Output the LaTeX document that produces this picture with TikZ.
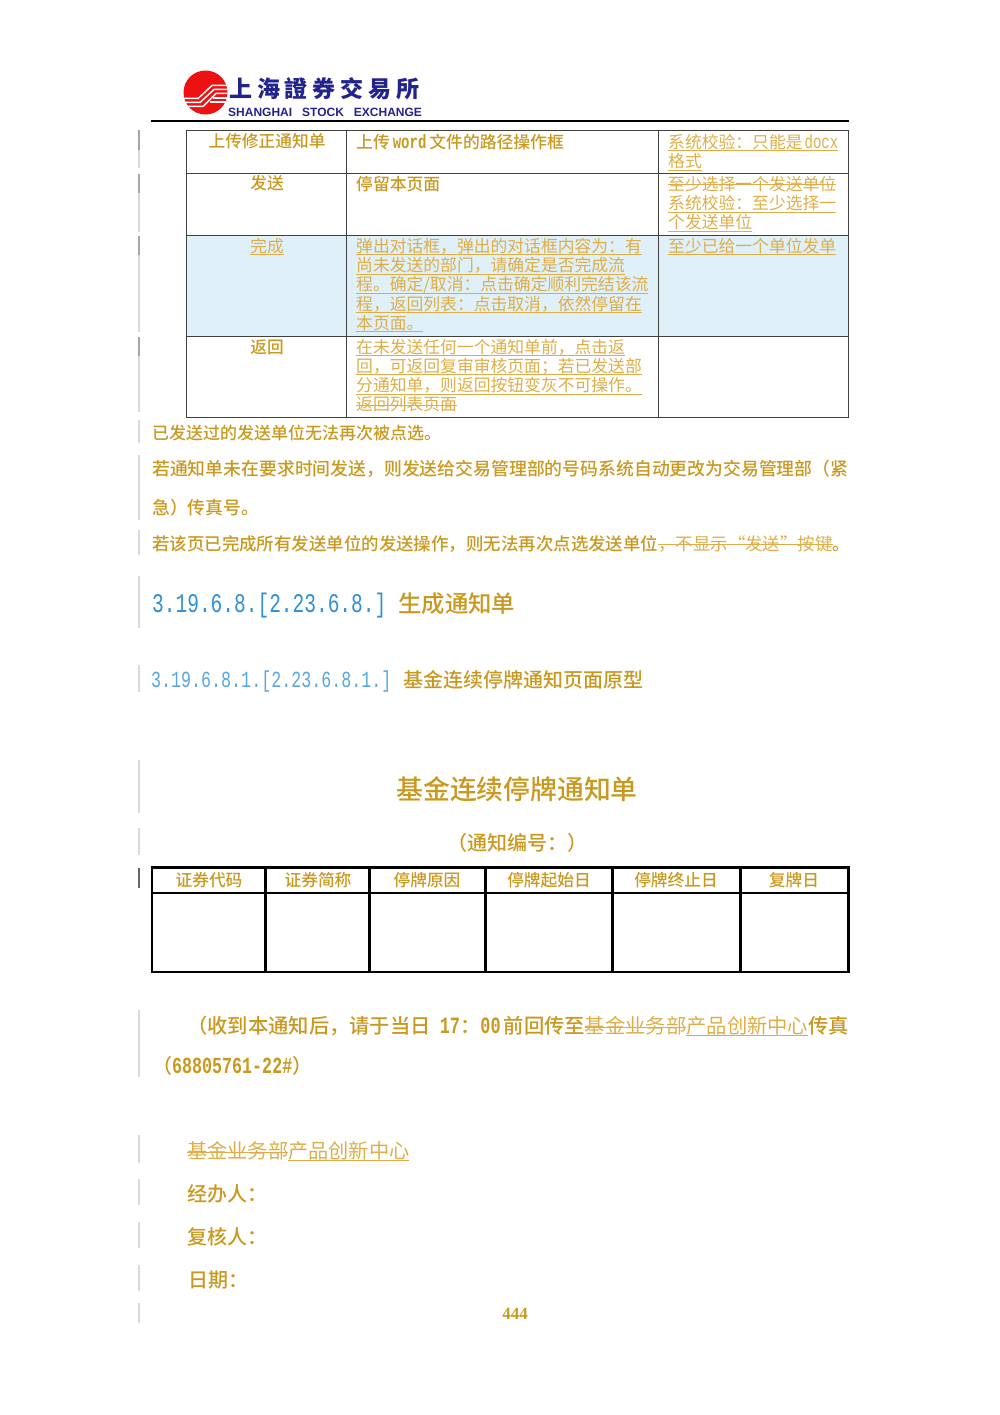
\documentclass[tikz,border=0pt]{standalone}
\usepackage{fontspec}
\setmainfont{Noto Sans CJK SC}[BoldFont={* Medium}]
\newfontfamily\lat[FakeStretch=0.725,Scale=1.15]{Liberation Mono}
\newfontfamily\logolat{Liberation Sans}
\newfontfamily\logocjk{Noto Sans CJK SC}
\newfontfamily\numfont{Liberation Serif}
\newcommand{\uln}[1]{\leavevmode\setbox0=\hbox{#1}\rlap{\rule[-2.8pt]{\wd0}{0.9pt}}\box0}
\newcommand{\strk}[1]{\leavevmode\setbox0=\hbox{#1}\rlap{\rule[5.4pt]{\wd0}{0.9pt}}\box0}
\definecolor{gold}{HTML}{C9981E}
\definecolor{lightgold}{HTML}{DDAE48}
\definecolor{secblue}{HTML}{2F8FD8}
\definecolor{subblue}{HTML}{5AA6DE}
\definecolor{cellblue}{HTML}{DFF0F8}
\definecolor{logored}{HTML}{EE1111}
\definecolor{logonavy}{HTML}{23238E}
\tikzstyle{cell} = [anchor=north west, inner sep=0pt, align=left, text=lightgold,
    font=\fontsize{16.8}{19.2}\selectfont]
\tikzstyle{cellhead} = [anchor=base, inner sep=0pt, text=gold,
    font=\fontsize{16.7}{19.2}\selectfont\bfseries]
\tikzstyle{para} = [anchor=base west, inner sep=0pt, text=gold]
\tikzstyle{colhead} = [anchor=base, inner sep=0pt, text=gold,
    font=\fontsize{16.7}{19.2}\selectfont\bfseries]
\tikzstyle{frame} = [draw=black!75, line width=1pt]
\tikzstyle{heavy} = [draw=black, line width=2.4pt]
\tikzstyle{changebar} = [draw=black!15, line width=1.2pt]
\tikzstyle{stripe} = [white, line width=1.5pt]
\begin{document}
\begin{tikzpicture}[x=1pt, y=-1pt]
    \useasboundingbox (0,0) rectangle (1000,1415);
    % logo
    \fill [logored] (205.5,92.5) circle (22);
    \draw [stripe] (184,98.5) -- (198,98.5) -- (212,85.5) -- (229,85.5);
    \draw [stripe] (184,102.5) -- (200,102.5) -- (214,89.5) -- (229,89.5);
    \draw [stripe] (187,106.5) -- (203,106.5) -- (216,93.5) -- (229,93.5);
    \draw [stripe] (213,98) -- (229,98);
    \draw [stripe] (210,102) -- (229,102);
    \node (logocn) [anchor=base west, inner sep=0pt, text=logonavy,
        font=\logocjk\fontsize{23}{23}\selectfont\bfseries\addfontfeature{LetterSpace=21}] at (229,98) {上海證券交易所};
    \node (logoen) [anchor=base west, inner sep=0pt, text=logonavy,
        font=\logolat\fontsize{12}{12}\selectfont\bfseries] at (228,116.5) {SHANGHAI\hspace{10pt}STOCK\hspace{10pt}EXCHANGE};
    \draw [black, line width=1.4pt] (151,121) -- (849,121);

    % change bars
    \draw [changebar] (139,130) -- (139,168) (139,174) -- (139,232) (139,236) -- (139,332)
        (139,337) -- (139,412) (139,420) -- (139,443) (139,455) -- (139,520)
        (139,530) -- (139,555) (139,576) -- (139,628) (139,665) -- (139,692)
        (139,760) -- (139,813) (139,828) -- (139,855) (139,1010) -- (139,1077)
        (139,1135) -- (139,1163) (139,1179) -- (139,1205) (139,1222) -- (139,1248)
        (139,1265) -- (139,1291) (139,1303) -- (139,1323);
    \draw [draw=black!35, line width=1.2pt] (139,130) -- (139,150) (139,174) -- (139,193)
        (139,236) -- (139,255) (139,337) -- (139,356);
    \draw [draw=black!60, line width=1.4pt] (139,868) -- (139,888);

    % upper table
    \fill [cellblue] (186.5,235.5) rectangle (848.5,336);
    \draw [frame] (186.5,130.5) rectangle (848.5,417);
    \draw [frame] (186.5,173.5) -- (848.5,173.5) (186.5,235.5) -- (848.5,235.5) (186.5,336) -- (848.5,336);
    \draw [frame] (346.5,130.5) -- (346.5,417) (658.5,130.5) -- (658.5,417);

    \node (upload) [cellhead] at (267,148) {上传修正通知单};
    \node (uploadact) [cell, text=gold, font=\fontsize{16.8}{19.2}\selectfont\bfseries] at (356,134) {上传\hspace{3pt}{\lat word}\hspace{3pt}文件的路径操作框};
    \node (uploadchk) [cell] at (668,134) {\uln{系统校验：只能是\hspace{2pt}{\lat docx}}\\\uln{格式}};
    \node (send) [cellhead] at (267,190) {发送};
    \node (sendact) [cell, text=gold, font=\fontsize{16.8}{19.2}\selectfont\bfseries] at (356,176) {停留本页面};
    \node (sendchk) [cell] at (668,176) {\strk{至少选择一个发送单位}\\\uln{系统校验：至少选择一}\\\uln{个发送单位}};
    \node (finish) [cellhead, text=lightgold, font=\fontsize{16.7}{19.2}\selectfont] at (267,252) {\uln{完成}};
    \node (finishact) [cell] at (356,238) {\uln{弹出对话框，弹出的对话框内容为：有}\\
        \uln{尚未发送的部门，请确定是否完成流}\\
        \uln{程。确定/取消：点击确定顺利完结该流}\\
        \uln{程，返回列表：点击取消，依然停留在}\\
        \uln{本页面。}};
    \node (finishchk) [cell] at (668,238) {\uln{至少已给一个单位发单}};
    \node (back) [cellhead] at (267,353) {返回};
    \node (backact) [cell] at (356,339) {\uln{在未发送任何一个通知单前，点击返}\\
        \uln{回，可返回复审审核页面；若已发送部}\\
        \uln{分通知单，则返回按钮变灰不可操作。}\\
        \strk{返回列表页面}};

    % notes
    \node (note1) [para, font=\fontsize{17}{17}\selectfont\bfseries] at (152,439) {已发送过的发送单位无法再次被点选。};
    \node (note2) [para, font=\fontsize{17.85}{17}\selectfont\bfseries] at (152,475) {若通知单未在要求时间发送，则发送给交易管理部的号码系统自动更改为交易管理部（紧};
    \node (note2b) [para, font=\fontsize{17.85}{17}\selectfont\bfseries] at (152,514) {急）传真号。};
    \node (note3) [para, font=\fontsize{17.45}{17}\selectfont\bfseries] at (152,550) {若该页已完成所有发送单位的发送操作，则无法再次点选发送单位{\color{lightgold}\mdseries\strk{，不显示“发送”按键}}。};

    % headings
    \node (sec) [para, text=secblue, font=\fontsize{23.4}{23}\selectfont] at (152,612) {{\lat 3.19.6.8.[2.23.6.8.]}};
    \node (sectitle) [para, font=\fontsize{23.4}{23}\selectfont\bfseries] at (398,612) {生成通知单};
    \node (sub) [para, text=subblue, font=\fontsize{20}{20}\selectfont] at (151,687) {{\lat 3.19.6.8.1.[2.23.6.8.1.]}};
    \node (subtitle) [para, font=\fontsize{20}{20}\selectfont\bfseries] at (403,687) {基金连续停牌通知页面原型};
    \node (title) [anchor=base, inner sep=0pt, text=gold, font=\fontsize{26.8}{27}\selectfont\bfseries] at (517,799) {基金连续停牌通知单};
    \node (serial) [anchor=base, inner sep=0pt, text=gold, font=\fontsize{20}{20}\selectfont\bfseries] at (517,850) {（通知编号：）};

    % notice table
    \draw [heavy] (152,867.5) rectangle (848.5,972);
    \draw [heavy] (152,893) -- (848.5,893);
    \draw [heavy] (265.5,867.5) -- (265.5,972) (369.5,867.5) -- (369.5,972) (485.5,867.5) -- (485.5,972)
        (612.5,867.5) -- (612.5,972) (740.5,867.5) -- (740.5,972);
    \node (code) [colhead] at (209,886) {证券代码};
    \node (abbr) [colhead] at (318,886) {证券简称};
    \node (reason) [colhead] at (427,886) {停牌原因};
    \node (startday) [colhead] at (549,886) {停牌起始日};
    \node (endday) [colhead] at (676,886) {停牌终止日};
    \node (resume) [colhead] at (794,886) {复牌日};

    % reply line
    \node (reply) [para, font=\fontsize{20.3}{20}\selectfont\bfseries] at (187,1033) {（收到本通知后，请于当日\hspace{9pt}{\lat 17}：{\lat 00}\hspace{3pt}前回传至{\color{lightgold}\mdseries\strk{基金业务部}\uln{产品创新中心}}传真};
    \node (fax) [para, font=\fontsize{20}{20}\selectfont\bfseries] at (152,1073) {（{\lat 68805761-22\#}）};

    % signature
    \node (dept) [para, text=lightgold, font=\fontsize{20.2}{20}\selectfont] at (187,1158) {\strk{基金业务部}\uln{产品创新中心}};
    \node (handler) [para, font=\fontsize{20}{20}\selectfont\bfseries] at (187,1201) {经办人：};
    \node (checker) [para, font=\fontsize{20}{20}\selectfont\bfseries] at (187,1244) {复核人：};
    \node (date) [para, font=\fontsize{20}{20}\selectfont\bfseries] at (188,1287) {日期：};
    \node (pageno) [anchor=base, inner sep=0pt, text=gold, font=\numfont\bfseries\fontsize{17}{17}\selectfont] at (515,1319) {444};
\end{tikzpicture}
\end{document}
